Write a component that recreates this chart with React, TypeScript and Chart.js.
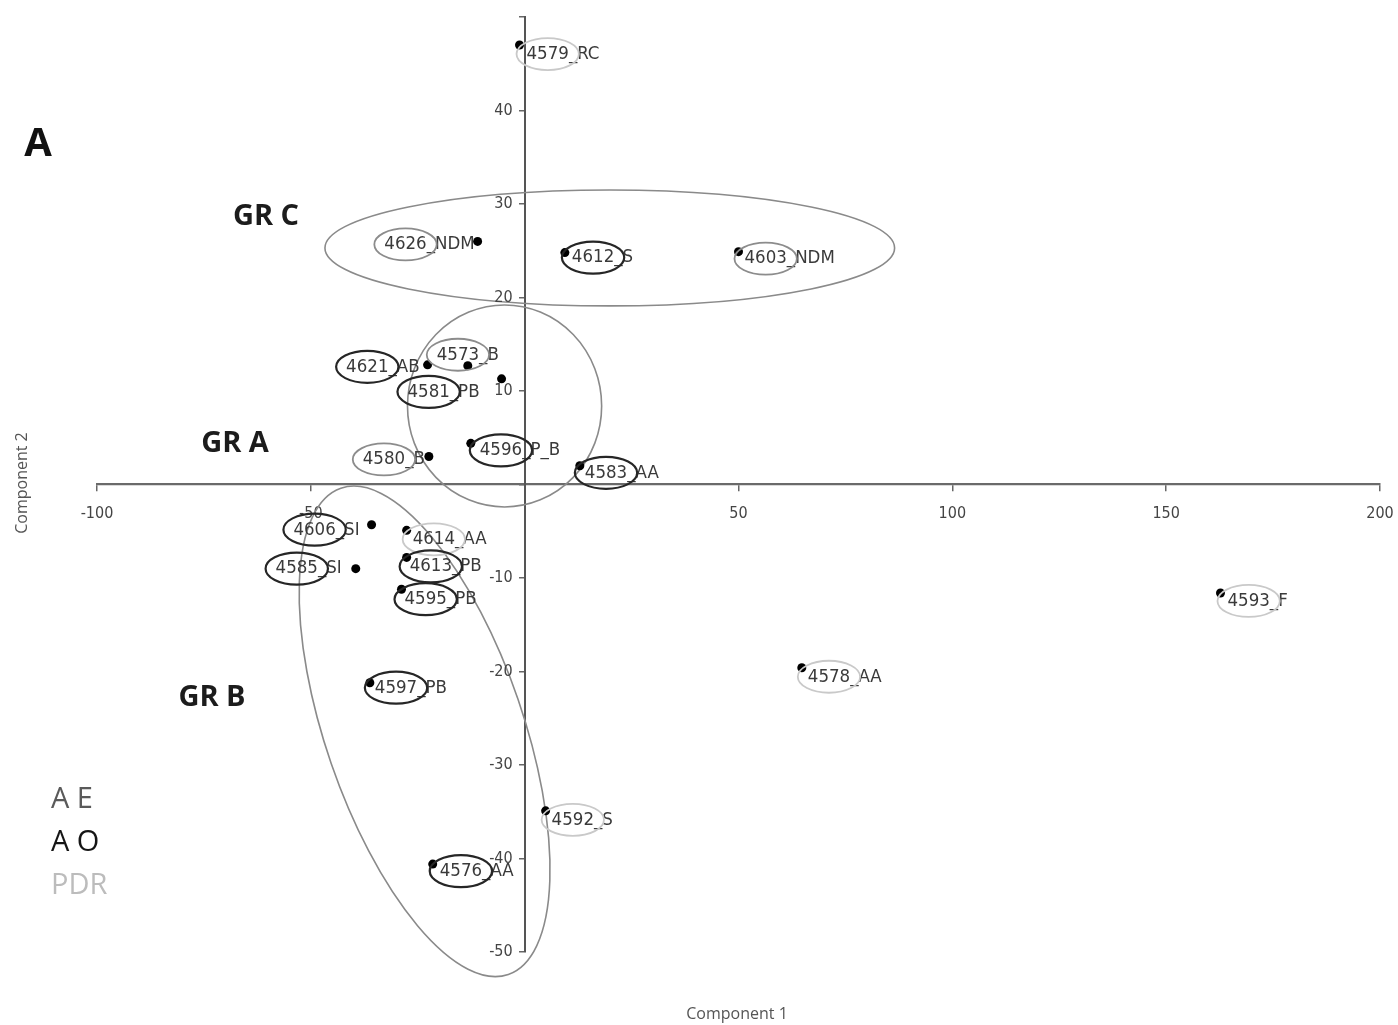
import React, { useEffect, useRef } from 'react';
import { Chart, registerables } from 'chart.js';
Chart.register(...registerables);

// ---- data ----
const sampleIds = ['4579', '4626', '4612', '4603', '4621', '4573', '4581', '4596', '4580', '4583', '4606', '4614', '4613', '4585', '4595', '4597', '4576', '4592', '4578', '4593'];
const sampleSuffixes = ['RC', 'NDM', 'S', 'NDM', 'AB', 'B', 'PB', 'P_B', 'B', 'AA', 'SI', 'AA', 'PB', 'SI', 'PB', 'PB', 'AA', 'S', 'AA', 'F'];
const component1 = [-1.2, -11.0, 9.4, 50.0, -22.7, -13.3, -5.4, -12.6, -22.4, 12.9, -35.8, -27.6, -27.6, -39.5, -28.8, -36.2, -21.5, 4.9, 64.8, 162.7];
const component2 = [47.0, 26.0, 24.8, 24.9, 12.8, 12.7, 11.3, 4.4, 3.0, 2.0, -4.3, -4.9, -7.8, -9.0, -11.2, -21.2, -40.6, -34.9, -19.6, -11.6];
const sampleGroups = ['PDR', 'AE', 'AO', 'AE', 'AO', 'AE', 'AO', 'AO', 'AE', 'AO', 'AO', 'PDR', 'AO', 'AO', 'AO', 'AO', 'AO', 'PDR', 'PDR', 'PDR'];

const xTicks = [-100, -50, 0, 50, 100, 150, 200];
const yTicks = [-50, -40, -30, -20, -10, 0, 10, 20, 30, 40, 50];
const hiddenXTicks = [0];
const hiddenYTicks = [0, 50];

const legendNames = ['A E', 'A O', 'PDR'];
const legendGroups = ['AE', 'AO', 'PDR'];
const clusterNames = ['GR C', 'GR A', 'GR B'];

// ---- styling / annotation geometry ----
const groupEllipseColor: Record<string, string> = { AE: '#8c8c8c', AO: '#262626', PDR: '#c9c9c9' };
const legendColor: Record<string, string> = { AE: '#5a5a5a', AO: '#151515', PDR: '#bcbcbc' };

// cluster ellipses: centre & radii in data units, rotation in degrees
const clusterEllipses = [
  { cx: 19.9, cy: 25.3, rx: 66.6, ry: 6.2, rot: 0 },
  { cx: -4.7, cy: 8.4, rx: 22.7, ry: 10.8, rot: 0 },
  { cx: -23.4, cy: -26.4, rx: 23.1, ry: 27.5, rot: -19 },
];
const clusterLabelPos = [
  [266, 217],
  [235, 444],
  [212, 698],
];

// label placement per point: [dx, dy, anchor]
const labelPlacement: [number, number, 'left' | 'right' | 'center'][] = [
  [7, 9, 'left'],
  [-3, 3, 'right'],
  [7, 5, 'left'],
  [6, 7, 'left'],
  [-8, 2, 'right'],
  [0, -11, 'center'],
  [-22, 13, 'right'],
  [9, 7, 'left'],
  [-4, 3, 'right'],
  [5, 7, 'left'],
  [-12, 5, 'right'],
  [6, 9, 'left'],
  [3, 9, 'left'],
  [-14, 0, 'right'],
  [3, 10, 'left'],
  [5, 5, 'left'],
  [7, 7, 'left'],
  [6, 9, 'left'],
  [6, 9, 'left'],
  [7, 8, 'left'],
];

const LABEL_FONT = '18.5px "DejaVu Sans Condensed", "Liberation Sans Narrow", "Liberation Sans", sans-serif';
const TICK_FAMILY = '"DejaVu Sans Condensed", "Liberation Sans Narrow", "Liberation Sans", sans-serif';
const TITLE_FAMILY = '"Open Sans", "Noto Sans", sans-serif';

const annotationPlugin = {
  id: 'annotations',
  beforeDatasetsDraw(chart: any) {
    const { ctx, scales } = chart;
    const x = scales.x, y = scales.y;
    ctx.save();
    clusterEllipses.forEach((g) => {
      const cx = x.getPixelForValue(g.cx);
      const cy = y.getPixelForValue(g.cy);
      const rx = Math.abs(x.getPixelForValue(g.cx + g.rx) - cx);
      const ry = Math.abs(y.getPixelForValue(g.cy + g.ry) - cy);
      ctx.beginPath();
      ctx.ellipse(cx, cy, rx, ry, (g.rot * Math.PI) / 180, 0, Math.PI * 2);
      ctx.strokeStyle = '#8a8a8a';
      ctx.lineWidth = 1.6;
      ctx.stroke();
    });
    // y tick labels (left of the centred axis)
    const axisX = x.getPixelForValue(0);
    ctx.font = `16px ${TICK_FAMILY}`;
    ctx.fillStyle = '#444';
    ctx.textAlign = 'right';
    ctx.textBaseline = 'middle';
    yTicks.forEach((v) => {
      if (hiddenYTicks.includes(v)) return;
      ctx.fillText(String(v), axisX - 12, y.getPixelForValue(v));
    });
    ctx.restore();
  },
  afterDatasetsDraw(chart: any) {
    const { ctx } = chart;
    const meta = chart.getDatasetMeta(0);
    ctx.save();
    ctx.font = LABEL_FONT;
    ctx.textBaseline = 'middle';
    ctx.textAlign = 'left';
    meta.data.forEach((pt: any, i: number) => {
      const [dx, dy, anchor] = labelPlacement[i];
      const text = sampleIds[i] + '_' + sampleSuffixes[i];
      const full = ctx.measureText(text).width;
      const idW = ctx.measureText(sampleIds[i]).width;
      let left = pt.x + dx;
      if (anchor === 'right') left = pt.x + dx - full;
      if (anchor === 'center') left = pt.x + dx - full / 2;
      const ty = pt.y + dy;
      ctx.fillStyle = '#3a3a3a';
      ctx.fillText(text, left, ty);
      ctx.beginPath();
      ctx.ellipse(left + idW / 2, ty, idW / 2 + 10, 16, 0, 0, Math.PI * 2);
      ctx.strokeStyle = groupEllipseColor[sampleGroups[i]];
      ctx.lineWidth = sampleGroups[i] === 'AO' ? 2.2 : 1.8;
      ctx.stroke();
    });
    ctx.restore();
  },
  afterDraw(chart: any) {
    const { ctx } = chart;
    ctx.save();
    ctx.textBaseline = 'middle';
    ctx.fillStyle = '#111';
    ctx.textAlign = 'center';
    ctx.font = `bold 40px ${TITLE_FAMILY}`;
    ctx.fillText('A', 38, 145);
    ctx.font = `bold 29px ${TITLE_FAMILY}`;
    ctx.fillStyle = '#1c1c1c';
    clusterNames.forEach((n, i) => {
      ctx.fillText(n, clusterLabelPos[i][0], clusterLabelPos[i][1]);
    });
    ctx.textAlign = 'left';
    ctx.font = `29px ${TITLE_FAMILY}`;
    legendNames.forEach((n, i) => {
      ctx.fillStyle = legendColor[legendGroups[i]];
      ctx.fillText(n, 51, 800 + i * 43);
    });
    ctx.fillStyle = '#555';
    ctx.font = `16px ${TITLE_FAMILY}`;
    ctx.textAlign = 'center';
    ctx.fillText('Component 1', 737, 1014);
    ctx.translate(22, 483);
    ctx.rotate(-Math.PI / 2);
    ctx.fillText('Component 2', 0, 0);
    ctx.restore();
  },
};

export default function App() {
  const ref = useRef<HTMLCanvasElement | null>(null);
  useEffect(() => {
    if (!ref.current) return;
    const points = component1.map((v, i) => ({ x: v, y: component2[i] }));
    const chart = new Chart(ref.current, {
      type: 'scatter',
      data: {
        datasets: [
          {
            data: points,
            pointRadius: 4.5,
            pointHoverRadius: 4.5,
            backgroundColor: '#000',
            borderWidth: 0,
          },
        ],
      },
      options: {
        animation: false,
        responsive: false,
        events: [],
        layout: { padding: { left: 97, right: 18, top: 17, bottom: 73 } },
        plugins: { legend: { display: false }, tooltip: { enabled: false } },
        scales: {
          x: {
            type: 'linear',
            min: -100,
            max: 200,
            position: { y: 0 } as any,
            afterBuildTicks: (s: any) => {
              s.ticks = xTicks.map((v) => ({ value: v }));
            },
            afterFit: (s: any) => {
              s.paddingLeft = 0;
              s.paddingRight = 0;
              s.paddingTop = 0;
              s.paddingBottom = 0;
            },
            grid: { drawOnChartArea: false, drawTicks: true, tickLength: 6, color: '#666', lineWidth: 1.5 },
            border: { display: true, color: '#6a6a6a', width: 2.2 },
            ticks: {
              padding: 14,
              color: '#444',
              font: { family: TICK_FAMILY, size: 16 },
              maxRotation: 0,
              autoSkip: false,
              callback: (v: any) => (hiddenXTicks.includes(Number(v)) ? '' : String(v)),
            },
          },
          y: {
            type: 'linear',
            min: -50,
            max: 50,
            position: { x: 0 } as any,
            afterBuildTicks: (s: any) => {
              s.ticks = yTicks.map((v) => ({ value: v }));
            },
            afterFit: (s: any) => {
              s.paddingLeft = 0;
              s.paddingRight = 0;
              s.paddingTop = 0;
              s.paddingBottom = 0;
            },
            grid: { drawOnChartArea: false, drawTicks: true, tickLength: 5, color: '#666', lineWidth: 1.5 },
            border: { display: true, color: '#555', width: 2 },
            ticks: { display: false },
          },
        },
      },
      plugins: [annotationPlugin],
    });
    return () => chart.destroy();
  }, []);
  return (
    <div style={{ position: 'absolute', left: 0, top: 0, width: 1398, height: 1025, background: '#fff' }}>
      <canvas ref={ref} width={1398} height={1025} />
    </div>
  );
}
